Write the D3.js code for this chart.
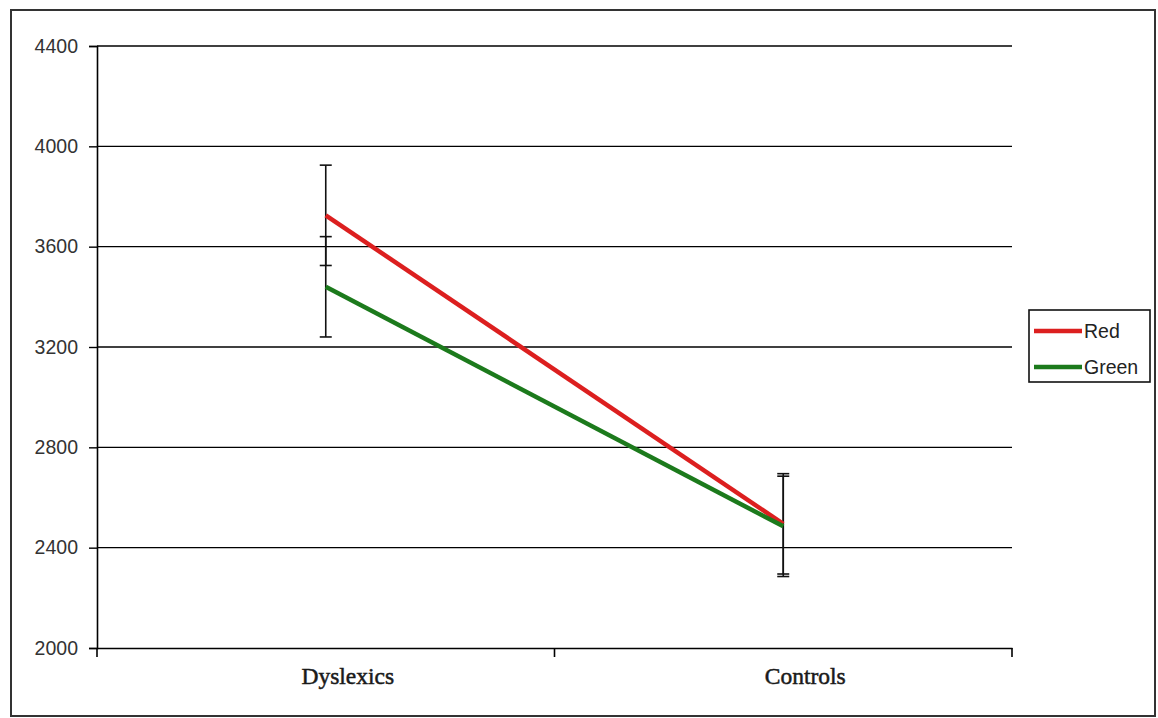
<!DOCTYPE html>
<html><head><meta charset="utf-8">
<script src="https://cdn.jsdelivr.net/npm/d3@7"></script>
<style>body{margin:0;background:#fff}svg{display:block}</style>
</head><body>
<svg id="c" width="1158" height="718"></svg>
<script>
const categories = ["Dyslexics", "Controls"];
const seriesNames = ["Red", "Green"];
const redValues = [3725, 2495];
const greenValues = [3440, 2485];
const redErrors = [200, 200];
const greenErrors = [200, 200];
const yTicks = [2000, 2400, 2800, 3200, 3600, 4000, 4400];
const colors = ["#dc1f1f", "#1c7a1c"];

const svg = d3.select("#c");
const L = 97, R = 1012, T = 46, B = 648;

svg.append("rect").attr("x", 11).attr("y", 10).attr("width", 1144).attr("height", 706)
  .attr("fill", "#fff").attr("stroke", "#333").attr("stroke-width", 2);

const x = d3.scaleBand().domain(categories).range([L, R]);
const y = d3.scaleLinear().domain([2000, 4400]).range([B, T]);

// gridlines
svg.append("g").selectAll("line").data(yTicks.slice(1)).join("line")
  .attr("x1", L).attr("x2", R).attr("y1", d => y(d)).attr("y2", d => y(d))
  .attr("stroke", "#000").attr("stroke-width", 1.4);

// y axis
const ya = svg.append("g").attr("transform", `translate(${L},0)`)
  .call(d3.axisLeft(y).tickValues(yTicks).tickSize(8).tickPadding(11).tickFormat(d3.format("d")));
ya.select(".domain").attr("stroke", "#000").attr("stroke-width", 1.6);
ya.selectAll(".tick line").attr("stroke", "#000").attr("stroke-width", 1.4);
ya.selectAll("text").attr("font-family", "Arial, 'Liberation Sans', sans-serif").attr("font-size", 19.5).attr("fill", "#333");

// x axis
const xa = svg.append("g").attr("transform", `translate(0,${B})`)
  .call(d3.axisBottom(x).tickSize(0).tickPadding(0));
xa.select(".domain").attr("stroke", "#000").attr("stroke-width", 1.6);
xa.selectAll(".tick text").remove();
const bounds = [L, L + x.bandwidth(), R];
xa.append("g").selectAll("line").data(bounds).join("line")
  .attr("x1", d => d).attr("x2", d => d).attr("y1", 0).attr("y2", 9)
  .attr("stroke", "#000").attr("stroke-width", 1.6);
xa.append("g").selectAll("text").data(categories).join("text")
  .attr("x", d => x(d) + x.bandwidth() / 2 + 22).attr("y", 36)
  .attr("text-anchor", "middle")
  .attr("font-family", "'Times New Roman', 'Liberation Serif', serif").attr("font-size", 23.5)
  .attr("fill", "#1a1a1a").attr("stroke", "#1a1a1a").attr("stroke-width", 0.5)
  .text(d => d);

const cx = d => x(d) + x.bandwidth() / 2;
const series = [
  { name: seriesNames[0], values: redValues, errors: redErrors, color: colors[0] },
  { name: seriesNames[1], values: greenValues, errors: greenErrors, color: colors[1] }
];

// error bars
series.forEach(s => {
  const g = svg.append("g");
  categories.forEach((c, i) => {
    const v = s.values[i], e = s.errors[i];
    g.append("line").attr("x1", cx(c)).attr("x2", cx(c)).attr("y1", y(v - e)).attr("y2", y(v + e))
      .attr("stroke", "#111").attr("stroke-width", 1.6);
    [v - e, v + e].forEach(b => g.append("line").attr("x1", cx(c) - 6).attr("x2", cx(c) + 6)
      .attr("y1", y(b)).attr("y2", y(b)).attr("stroke", "#111").attr("stroke-width", 1.6));
  });
});

// lines
const line = d3.line().x((d, i) => cx(categories[i])).y(d => y(d));
series.forEach(s => {
  svg.append("path").attr("d", line(s.values)).attr("fill", "none")
    .attr("stroke", s.color).attr("stroke-width", 4.5);
});

// legend
const lg = svg.append("g");
lg.append("rect").attr("x", 1029).attr("y", 310).attr("width", 121).attr("height", 72)
  .attr("fill", "#fff").attr("stroke", "#111").attr("stroke-width", 1.6);
series.forEach((s, i) => {
  const yy = 331 + i * 36;
  lg.append("line").attr("x1", 1034).attr("x2", 1082).attr("y1", yy).attr("y2", yy)
    .attr("stroke", s.color).attr("stroke-width", 4.5);
  lg.append("text").attr("x", 1084).attr("y", yy + 7)
    .attr("font-family", "Arial, 'Liberation Sans', sans-serif").attr("font-size", 19.5)
    .attr("fill", "#222").text(s.name);
});
</script>
</body></html>
